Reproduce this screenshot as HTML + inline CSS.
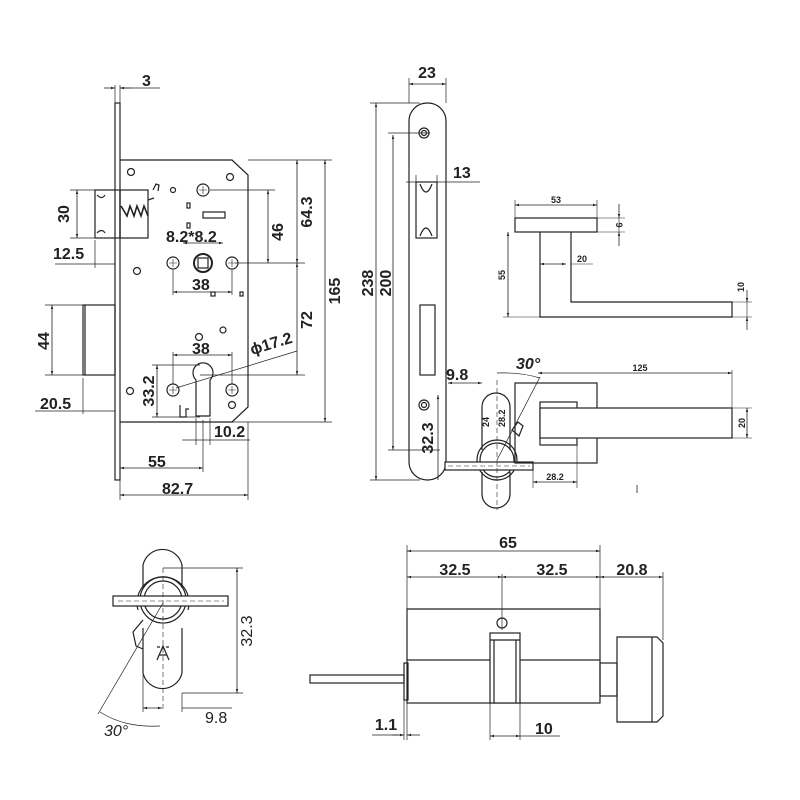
<!DOCTYPE html>
<html><head><meta charset="utf-8"><style>
html,body{margin:0;padding:0;background:#fff}
svg{display:block}
text{font-family:"Liberation Sans",Arial,sans-serif;fill:#222}
.b{font-size:16px;font-weight:bold}
.s{font-size:9px;font-weight:bold}
</style></head><body>
<svg width="800" height="800" viewBox="0 0 800 800" xmlns="http://www.w3.org/2000/svg">
<defs>
<marker id="a" viewBox="0 0 10 10" refX="10" refY="5" markerWidth="7" markerHeight="5" orient="auto-start-reverse"><path d="M0,2 L10,5 L0,8 z" fill="#222"/></marker>
</defs>
<g fill="none" stroke="#222" stroke-width="1.2">
<rect x="115" y="103" width="5" height="377"/>
<path d="M120,160 H232 L248,175 V407 L232,422 H120"/>
<rect x="95" y="190" width="25" height="48"/>
<path d="M97,195 q5,5 8,0 M97,233 q5,-5 8,0"/>
<rect x="120" y="190" width="28" height="48"/>
<path d="M121,206 l6,10 l3,-10 l4,10 l3,-10 l4,10 l3,-10 l4,10" stroke-width="1.6"/>
<path d="M153,190 l3,-6 l3,1 l-1,6 M148,200 l6,-2"/>
<rect x="83" y="305" width="32" height="70"/>
<line x1="85" y1="305" x2="85" y2="375"/>
<circle cx="203" cy="190" r="6"/><path d="M199,190h8M203,186v8" stroke-width=".6"/>
<circle cx="173" cy="263" r="6"/><path d="M169,263h8M173,259v8" stroke-width=".6"/>
<circle cx="232" cy="263" r="6"/><path d="M228,263h8M232,259v8" stroke-width=".6"/>
<circle cx="203" cy="263" r="9" stroke-width="2"/><rect x="198" y="258" width="10" height="10"/>
<circle cx="173" cy="390" r="6"/><path d="M169,390h8M173,386v8" stroke-width=".6"/>
<circle cx="232" cy="390" r="6"/><path d="M228,390h8M232,386v8" stroke-width=".6"/>
<path d="M196,416 V380 A10,10 0 1 1 210,380 V416 z"/>
<path d="M180,405 v12 h6 v-8 h3"/>
<circle cx="131" cy="172" r="3.5"/><circle cx="230" cy="177" r="3.5"/><circle cx="137" cy="271" r="3.5"/>
<circle cx="199" cy="337" r="3.5"/><circle cx="130" cy="391" r="3.5"/><circle cx="232" cy="405" r="3.5"/>
<circle cx="173" cy="190" r="2.5"/><circle cx="223" cy="330" r="3"/>
<rect x="203" y="212" width="22" height="6"/><rect x="187" y="203" width="3" height="5"/><rect x="187" y="223" width="3" height="5"/>
<rect x="211" y="292" width="4" height="4"/><rect x="240" y="292" width="3" height="4"/>
</g>
<g stroke="#222" stroke-width=".8" fill="none" marker-start="url(#a)" marker-end="url(#a)">
<line x1="104" y1="88" x2="115" y2="88" marker-start="none"/><line x1="131" y1="88" x2="120" y2="88" marker-start="none"/>
<line x1="297" y1="160" x2="297" y2="263"/>
<line x1="268" y1="190" x2="268" y2="263"/>
<line x1="297" y1="263" x2="297" y2="375"/>
<line x1="325" y1="160" x2="325" y2="422"/>
<line x1="77" y1="190" x2="77" y2="238"/>
<line x1="52" y1="305" x2="52" y2="375"/>
<line x1="173" y1="292" x2="232" y2="292"/>
<line x1="173" y1="355" x2="232" y2="355"/>
<line x1="157" y1="365" x2="157" y2="417"/>
<line x1="120" y1="468" x2="203" y2="468"/>
<line x1="120" y1="495" x2="248" y2="495"/>
<line x1="183" y1="243" x2="223" y2="243"/>
</g>
<g stroke="#222" stroke-width=".7" fill="none">
<line x1="120" y1="85" x2="120" y2="103"/><line x1="115" y1="85" x2="115" y2="103"/><line x1="120" y1="88" x2="160" y2="88"/>
<line x1="248" y1="160" x2="332" y2="160"/><line x1="235" y1="263" x2="305" y2="263"/><line x1="210" y1="190" x2="275" y2="190"/>
<line x1="200" y1="375" x2="305" y2="375"/><line x1="232" y1="422" x2="332" y2="422"/>
<line x1="70" y1="190" x2="95" y2="190"/><line x1="70" y1="238" x2="95" y2="238"/>
<line x1="45" y1="305" x2="83" y2="305"/><line x1="45" y1="375" x2="83" y2="375"/>
<line x1="55" y1="264" x2="115" y2="264"/><line x1="95" y1="240" x2="95" y2="268"/>
<line x1="35" y1="411" x2="115" y2="411"/><line x1="83" y1="378" x2="83" y2="414"/>
<line x1="173" y1="270" x2="173" y2="295"/><line x1="232" y1="270" x2="232" y2="295"/>
<line x1="173" y1="352" x2="173" y2="384"/><line x1="232" y1="352" x2="232" y2="384"/>
<line x1="152" y1="365" x2="200" y2="365"/><line x1="152" y1="417" x2="200" y2="417"/>
<line x1="196" y1="418" x2="196" y2="445"/><line x1="210" y1="418" x2="210" y2="445"/>
<line x1="182" y1="440" x2="250" y2="440"/>
<line x1="203" y1="420" x2="203" y2="472"/><line x1="120" y1="480" x2="120" y2="500"/><line x1="248" y1="422" x2="248" y2="500"/>
<line x1="176" y1="388" x2="297" y2="351"/>
</g>
<text class="b" x="142" y="86">3</text>
<text class="b" x="283" y="232" transform="rotate(-90 283 232)" text-anchor="middle">46</text>
<text class="b" x="312" y="212" transform="rotate(-90 312 212)" text-anchor="middle">64.3</text>
<text class="b" x="312" y="320" transform="rotate(-90 312 320)" text-anchor="middle">72</text>
<text class="b" x="340" y="291" transform="rotate(-90 340 291)" text-anchor="middle">165</text>
<text class="b" x="69" y="214" transform="rotate(-90 69 214)" text-anchor="middle">30</text>
<text class="b" x="49" y="341" transform="rotate(-90 49 341)" text-anchor="middle">44</text>
<text class="b" x="154" y="391" transform="rotate(-90 154 391)" text-anchor="middle">33.2</text>
<text class="b" x="53" y="259">12.5</text>
<text class="b" x="40" y="409">20.5</text>
<text class="b" x="166" y="242">8.2*8.2</text>
<text class="b" x="192" y="290">38</text>
<text class="b" x="192" y="354">38</text>
<text class="b" x="252" y="355" transform="rotate(-17 252 355)">ϕ17.2</text>
<text class="b" x="214" y="437">10.2</text>
<text class="b" x="148" y="467">55</text>
<text class="b" x="162" y="494">82.7</text>

<g fill="none" stroke="#222" stroke-width="1.2">
<rect x="409" y="103" width="37" height="377" rx="18"/>
<circle cx="424" cy="133" r="5"/><circle cx="424" cy="133" r="2.5"/>
<rect x="416" y="182" width="21" height="56"/><path d="M420,184 q6,16 12,0 M420,236 q6,-16 12,0"/>
<rect x="420" y="305" width="15" height="70"/>
<circle cx="424" cy="405" r="5"/><circle cx="424" cy="405" r="2.5"/>
</g>
<g stroke="#222" stroke-width=".8" fill="none" marker-start="url(#a)" marker-end="url(#a)">
<line x1="409" y1="84" x2="446" y2="84"/>
<line x1="376" y1="103" x2="376" y2="480"/>
<line x1="393" y1="135" x2="393" y2="450"/>
<line x1="448" y1="383" x2="482" y2="383"/>
<line x1="538" y1="373" x2="732" y2="373"/>
<line x1="747" y1="408" x2="747" y2="438"/>
<line x1="533" y1="482" x2="577" y2="482"/>
<line x1="438" y1="395" x2="438" y2="480" marker-end="none"/>
</g>
<g stroke="#222" stroke-width=".7" fill="none">
<line x1="409" y1="78" x2="409" y2="103"/><line x1="446" y1="78" x2="446" y2="103"/>
<line x1="370" y1="103" x2="420" y2="103"/><line x1="370" y1="480" x2="420" y2="480"/>
<line x1="388" y1="133" x2="430" y2="133"/><line x1="388" y1="450" x2="440" y2="450"/>
<line x1="406" y1="182" x2="480" y2="182"/><line x1="416" y1="175" x2="416" y2="186"/><line x1="437" y1="175" x2="437" y2="186"/>
</g>
<text class="b" x="427" y="78" text-anchor="middle">23</text>
<text class="b" x="453" y="178">13</text>
<text class="b" x="373" y="283" transform="rotate(-90 373 283)" text-anchor="middle">238</text>
<text class="b" x="391" y="283" transform="rotate(-90 391 283)" text-anchor="middle">200</text>
<text class="b" x="433" y="438" transform="rotate(-90 433 438)" text-anchor="middle">32.3</text>
<text class="b" x="446" y="380">9.8</text>
<text class="b" x="516" y="369" font-style="italic" font-weight="normal">30°</text>

<g fill="none" stroke="#222" stroke-width="1.2">
<path d="M482,450 V407 A14,14 0 0 1 510,407 V450"/>
<path d="M482,472 V494 A14,14 0 0 0 510,494 V472"/>
<circle cx="497" cy="460" r="20"/><circle cx="497" cy="460" r="17"/>
<rect x="445" y="462" width="88" height="8" fill="#fff"/>
<path d="M512,430 l6,-8 l5,4 l-4,10 z"/>
</g>
<g stroke="#222" stroke-width=".6" fill="none" stroke-dasharray="5,3">
<line x1="497" y1="380" x2="497" y2="510"/><line x1="448" y1="466" x2="530" y2="466"/>
</g>
<line x1="497" y1="460" x2="540" y2="377" stroke="#222" stroke-width=".7"/>
<path d="M497,373 Q520,372 540,378" stroke="#222" stroke-width=".7" fill="none"/>
<text class="s" x="489" y="427" transform="rotate(-90 489 427)">24</text>
<text class="s" x="505" y="427" transform="rotate(-90 505 427)">28.2</text>

<g fill="none" stroke="#222" stroke-width="1.2">
<rect x="515" y="383" width="82" height="80"/>
<rect x="540" y="402" width="37" height="43"/>
<rect x="540" y="408" width="192" height="30" fill="#fff"/>
</g>
<g stroke="#222" stroke-width=".6"><line x1="732" y1="408" x2="752" y2="408"/><line x1="732" y1="438" x2="752" y2="438"/><line x1="732" y1="370" x2="732" y2="408"/><line x1="577" y1="445" x2="577" y2="488"/><line x1="533" y1="470" x2="533" y2="488"/></g>
<line x1="637" y1="485" x2="637" y2="493" stroke="#222" stroke-width=".8"/>
<text class="s" x="640" y="371" text-anchor="middle">125</text>
<text class="s" x="745" y="423" transform="rotate(-90 745 423)" text-anchor="middle">20</text>
<text class="s" x="555" y="480" text-anchor="middle">28.2</text>

<g fill="none" stroke="#222" stroke-width="1.2">
<rect x="515" y="218" width="82" height="14"/>
<path d="M540,232 V317 H732 V302 H571 V232"/>
</g>
<g stroke="#222" stroke-width=".8" fill="none" marker-start="url(#a)" marker-end="url(#a)">
<line x1="515" y1="205" x2="597" y2="205"/>
<line x1="508" y1="232" x2="508" y2="317"/>
<line x1="540" y1="264" x2="566" y2="264"/>
<line x1="619" y1="204" x2="619" y2="218" marker-start="none"/><line x1="619" y1="246" x2="619" y2="232" marker-start="none"/>
<line x1="747" y1="290" x2="747" y2="302" marker-start="none"/><line x1="747" y1="330" x2="747" y2="317" marker-start="none"/>
</g>
<g stroke="#222" stroke-width=".6"><line x1="515" y1="200" x2="515" y2="218"/><line x1="597" y1="200" x2="597" y2="218"/><line x1="597" y1="218" x2="625" y2="218"/><line x1="597" y1="232" x2="625" y2="232"/><line x1="503" y1="317" x2="540" y2="317"/><line x1="571" y1="264" x2="593" y2="264"/><line x1="732" y1="302" x2="752" y2="302"/><line x1="732" y1="317" x2="752" y2="317"/><line x1="619" y1="218" x2="619" y2="232"/><line x1="747" y1="302" x2="747" y2="317"/></g>
<text class="s" x="556" y="203" text-anchor="middle">53</text>
<text class="s" x="582" y="262" text-anchor="middle">20</text>
<text class="s" x="505" y="275" transform="rotate(-90 505 275)" text-anchor="middle">55</text>
<text class="s" x="616" y="225" transform="rotate(90 616 225)" text-anchor="middle">9</text>
<text class="s" x="744" y="287" transform="rotate(-90 744 287)" text-anchor="middle">10</text>

<g fill="none" stroke="#222" stroke-width="1.2">
<path d="M143,588 V565 A20,20 0 0 1 182,565 V588"/>
<path d="M143,628 V673 A20,20 0 0 0 182,673 V628"/>
<path d="M138,610 A26,26 0 1 1 188,610"/>
<circle cx="163" cy="600" r="23"/><circle cx="163" cy="600" r="19"/>
<rect x="113" y="596" width="115" height="10" fill="#fff"/>
<path d="M143,620 l-10,12 l3,14 l7,3"/>
<path d="M157,660 l6,-14 l6,14 M159,655 h8 M157,647 h3 M166,647 h3"/>
</g>
<g stroke="#222" stroke-width=".6" fill="none" stroke-dasharray="5,3"><line x1="163" y1="568" x2="163" y2="712"/><line x1="118" y1="601" x2="224" y2="601"/></g>
<g stroke="#222" stroke-width=".7" fill="none">
<line x1="163" y1="568" x2="243" y2="568"/><line x1="182" y1="693" x2="243" y2="693"/>
<line x1="143" y1="675" x2="143" y2="712"/><line x1="182" y1="693" x2="182" y2="712"/>
<line x1="163" y1="603" x2="98" y2="714"/>
<path d="M100,712 Q125,728 160,726"/>
</g>
<g stroke="#222" stroke-width=".8" fill="none" marker-start="url(#a)" marker-end="url(#a)">
<line x1="237" y1="568" x2="237" y2="693"/>
<line x1="143" y1="708" x2="162" y2="708"/>
</g>
<line x1="182" y1="708" x2="232" y2="708" stroke="#222" stroke-width=".7"/>
<text x="252" y="631" transform="rotate(-90 252 631)" text-anchor="middle" font-size="16">32.3</text>
<text x="205" y="723" font-size="16">9.8</text>
<text x="104" y="736" font-size="16" font-style="italic">30°</text>

<g fill="none" stroke="#222" stroke-width="1.2">
<path d="M407,660 V609 H600 V660"/>
<rect x="407" y="660" width="193" height="43"/>
<rect x="404" y="663" width="4" height="37"/>
<rect x="490" y="633" width="30" height="70" fill="#fff"/>
<path d="M494,640 V703 M516,640 V703 M490,640 H520"/>
<rect x="600" y="663" width="17" height="33"/>
<path d="M617,637 H657 L663,643 V716 L657,722 H617 z"/>
<line x1="652" y1="637" x2="652" y2="722"/>
<rect x="310" y="675" width="94" height="8"/>
<circle cx="502" cy="623" r="5"/>
</g>
<g stroke="#222" stroke-width=".7" fill="none">
<line x1="407" y1="545" x2="407" y2="740"/><line x1="600" y1="545" x2="600" y2="609"/><line x1="663" y1="572" x2="663" y2="640"/>
<line x1="502" y1="574" x2="502" y2="630"/>
<line x1="490" y1="703" x2="490" y2="740"/><line x1="520" y1="703" x2="520" y2="740"/><line x1="404" y1="700" x2="404" y2="740"/>
<line x1="520" y1="736" x2="560" y2="736"/><line x1="372" y1="735" x2="404" y2="735"/>
</g>
<g stroke="#222" stroke-width=".8" fill="none" marker-start="url(#a)" marker-end="url(#a)">
<line x1="407" y1="551" x2="600" y2="551"/>
<line x1="407" y1="577" x2="502" y2="577"/>
<line x1="502" y1="577" x2="600" y2="577"/>
<line x1="600" y1="577" x2="663" y2="577"/>
<line x1="490" y1="736" x2="520" y2="736"/>
<line x1="392" y1="735" x2="404" y2="735" marker-start="none"/><line x1="420" y1="735" x2="407" y2="735" marker-start="none"/>
</g>
<text class="b" x="508" y="548" text-anchor="middle">65</text>
<text class="b" x="455" y="575" text-anchor="middle">32.5</text>
<text class="b" x="552" y="575" text-anchor="middle">32.5</text>
<text class="b" x="632" y="575" text-anchor="middle">20.8</text>
<text class="b" x="386" y="730" text-anchor="middle">1.1</text>
<text class="b" x="535" y="734">10</text>
</svg>
</body></html>
